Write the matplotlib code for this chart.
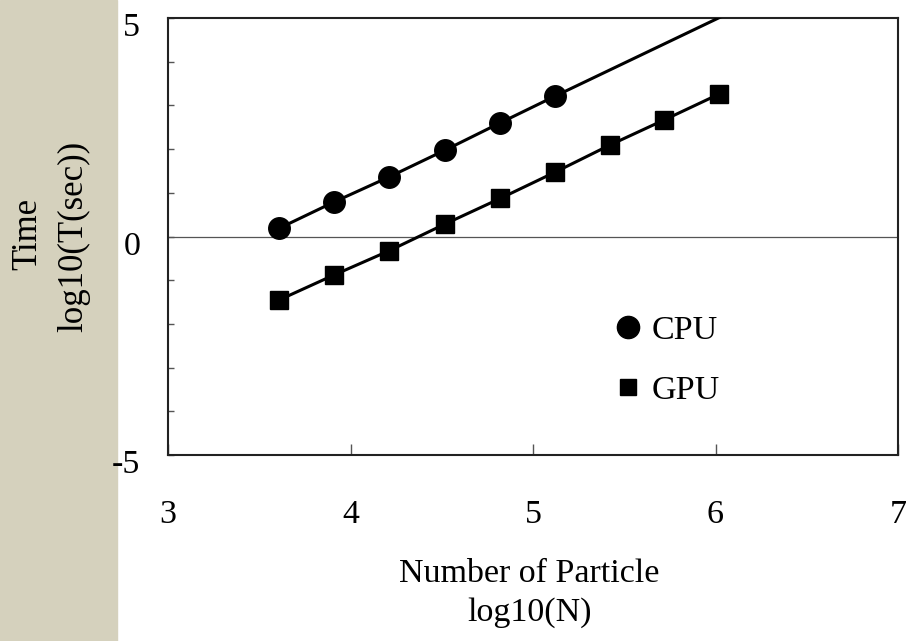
import numpy as np
import matplotlib
matplotlib.use("Agg")
import matplotlib.pyplot as plt
from matplotlib.lines import Line2D
from matplotlib.patches import Rectangle
from matplotlib.transforms import ScaledTranslation

# log10(N) for N = 2^12 ... 2^20
log_n = [3.61, 3.91, 4.21, 4.52, 4.82, 5.12, 5.42, 5.72, 6.02]
cpu_time = [0.19, 0.79, 1.36, 1.98, 2.60, 3.21]
gpu_time = [-1.45, -0.88, -0.33, 0.29, 0.87, 1.47, 2.09, 2.67, 3.26]
x_ticks = [3, 4, 5, 6, 7]
y_ticks = [-5, 0, 5]

plt.rcParams['font.family'] = ['Liberation Serif', 'DejaVu Serif']
plt.rcParams['axes.unicode_minus'] = False
fs = 24.5

fig = plt.figure(figsize=(9.1, 6.41), dpi=100)
fig.patches.append(Rectangle((0, 0), 117/910, 1, transform=fig.transFigure,
                             color='#d5d1bd', zorder=-5))
ax = fig.add_axes([168/910, 1-455/641, 730/910, 437/641])

ax.axhline(0, color='#555555', lw=0.9, zorder=1)

cpu_x = log_n[:len(cpu_time)]
ax.plot(cpu_x, cpu_time, color='black', lw=2.2, marker='o', ms=15.5, zorder=3)
# CPU trend extended beyond the measured points
slope = np.polyfit(cpu_x, cpu_time, 1)[0]
ext_x = np.array([cpu_x[-1], log_n[-1] + 0.1])
ax.plot(ext_x, cpu_time[-1] + slope*(ext_x - cpu_x[-1]), color='black', lw=2.2, zorder=3)
ax.plot(log_n, gpu_time, color='black', lw=2.2, marker='s', ms=13, zorder=3)

ax.set_xlim(3, 7)
ax.set_ylim(-5, 5)
ax.set_xticks(x_ticks)
ax.set_yticks(y_ticks)
ax.set_yticks(range(-4, 5), minor=True)
ax.tick_params(axis='x', direction='in', length=8, width=1, color='#555555',
               labelsize=fs, pad=32)
ax.tick_params(axis='y', which='both', direction='in', length=4.5, width=1,
               color='#555555', labelsize=fs, pad=20)
for lab in ax.get_yticklabels():
    lab.set_transform(lab.get_transform() + ScaledTranslation(0, -6.5/100, fig.dpi_scale_trans))
for s in ax.spines.values():
    s.set_linewidth(1.5)
    s.set_color('#222222')

handles = [Line2D([], [], ls='none', marker='o', ms=16, color='black'),
           Line2D([], [], ls='none', marker='s', ms=12, color='black')]
ax.legend(handles, ['CPU', 'GPU'], loc='upper left', frameon=False, fontsize=fs,
          bbox_to_anchor=(614/910, 1-315/641), bbox_transform=fig.transFigure,
          borderpad=0, borderaxespad=0, handlelength=0.8, handletextpad=0.3,
          labelspacing=0.85, numpoints=1)

fig.text(28/910, 1-234/641, 'Time', rotation=90, ha='center', va='center', fontsize=25)
fig.text(74/910, 1-236/641, 'log10(T(sec))', rotation=90, ha='center', va='center', fontsize=25)
fig.text(529/910, 1-574/641, 'Number of Particle', ha='center', va='center', fontsize=fs)
fig.text(530/910, 1-613/641, 'log10(N)', ha='center', va='center', fontsize=fs)

fig.savefig('out.png', dpi=100)
